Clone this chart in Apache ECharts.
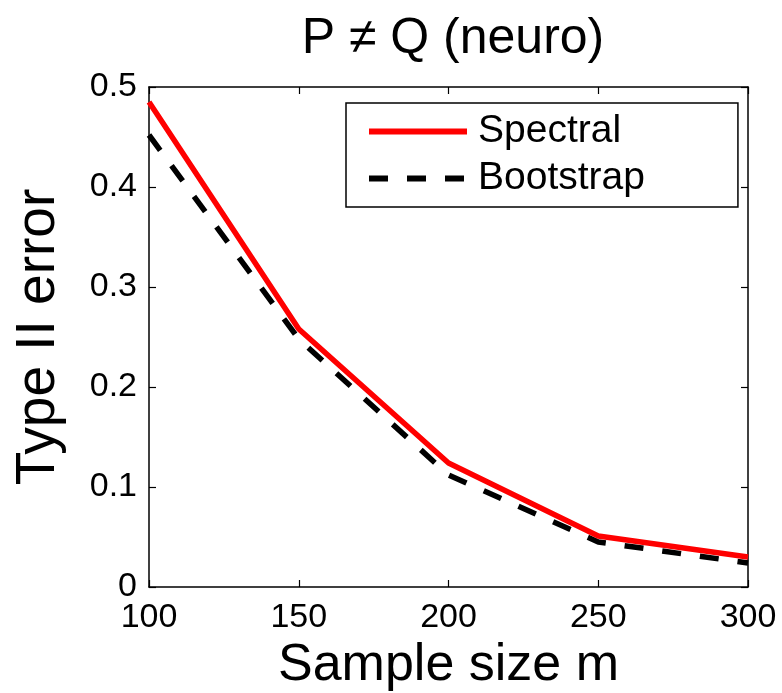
<!DOCTYPE html>
<html>
<head>
<meta charset="utf-8">
<script src="https://cdn.jsdelivr.net/npm/echarts@6/dist/echarts.min.js"></script>
<style>html,body{margin:0;padding:0;background:#fff}#c{width:782px;height:693px}</style>
</head>
<body>
<div id="c"></div>
<script>
var sampleSizes = [100, 150, 200, 250, 300];
var spectral = [0.485, 0.258, 0.124, 0.051, 0.030];
var bootstrap = [0.452, 0.248, 0.112, 0.045, 0.024];
var xTicks = [100, 150, 200, 250, 300];
var yTicks = [0, 0.1, 0.2, 0.3, 0.4, 0.5];
var titleText = 'P \u2260 Q (neuro)';
var xName = 'Sample size m';
var yName = 'Type II error';

var FONT = '"Liberation Sans", Arial, Helvetica, sans-serif';
function pairs(xs, ys){ return xs.map(function(x,i){ return [x, ys[i]]; }); }
function yLabel(v){ return v === 0 ? '0' : v.toFixed(1); }

var chart = echarts.init(document.getElementById('c'), null, {renderer:'canvas'});
var axisCommon = {
  axisLine:{show:true, onZero:false, lineStyle:{color:'#000', width:1.5}},
  axisTick:{show:true, inside:true, length:7, lineStyle:{color:'#000', width:1.2}},
  splitLine:{show:false}
};
chart.setOption({
  animation:false,
  backgroundColor:'#fff',
  title:{text:titleText, left:448, textAlign:'center', top:9,
    textStyle:{fontFamily:FONT, fontSize:50, fontWeight:'normal', color:'#000'}},
  grid:{left:149, right:34, top:87, bottom:106, containLabel:false, outerBoundsMode:'none'},
  legend:{
    orient:'vertical', left:346, top:103,
    data:[
      {name:'Spectral', lineStyle:{color:'#ff0000', width:6, type:'solid'}},
      {name:'Bootstrap', lineStyle:{color:'#000', width:6, type:[19,19]}}
    ],
    itemWidth:98, itemHeight:2, itemGap:0,
    padding:[5, 93, 5, 20],
    borderColor:'#000', borderWidth:1.5, backgroundColor:'#fff',
    itemStyle:{opacity:0},
    textStyle:{fontFamily:FONT, fontSize:39, color:'#000', lineHeight:47, padding:[0,0,0,6]}
  },
  xAxis:[
    Object.assign({type:'value', min:100, max:300, interval:50, position:'bottom',
      name:xName, nameLocation:'middle', nameGap:48,
      nameTextStyle:{fontFamily:FONT, fontSize:52, color:'#000'},
      axisLabel:{fontFamily:FONT, fontSize:34, color:'#000', margin:14,
        customValues:xTicks}}, axisCommon),
    Object.assign({type:'value', min:100, max:300, interval:50, position:'top',
      axisLabel:{show:false}}, axisCommon)
  ],
  yAxis:[
    Object.assign({type:'value', min:0, max:0.5, interval:0.1, position:'left',
      name:yName, nameLocation:'middle', nameGap:83,
      nameTextStyle:{fontFamily:FONT, fontSize:55, color:'#000'},
      axisLabel:{fontFamily:FONT, fontSize:34, color:'#000', margin:12,
        formatter:yLabel, customValues:yTicks}}, axisCommon),
    Object.assign({type:'value', min:0, max:0.5, interval:0.1, position:'right',
      axisLabel:{show:false}}, axisCommon)
  ],
  series:[
    {name:'Spectral', type:'line', data:pairs(sampleSizes, spectral), symbol:'none',
      xAxisIndex:0, yAxisIndex:0, z:3,
      lineStyle:{color:'#ff0000', width:5.5}, itemStyle:{color:'#ff0000'}},
    {name:'Bootstrap', type:'line', data:pairs(sampleSizes, bootstrap), symbol:'none',
      xAxisIndex:0, yAxisIndex:0, z:2,
      lineStyle:{color:'#000', width:5.5, type:[19,19]}, itemStyle:{color:'#000'}}
  ]
});
</script>
</body>
</html>
